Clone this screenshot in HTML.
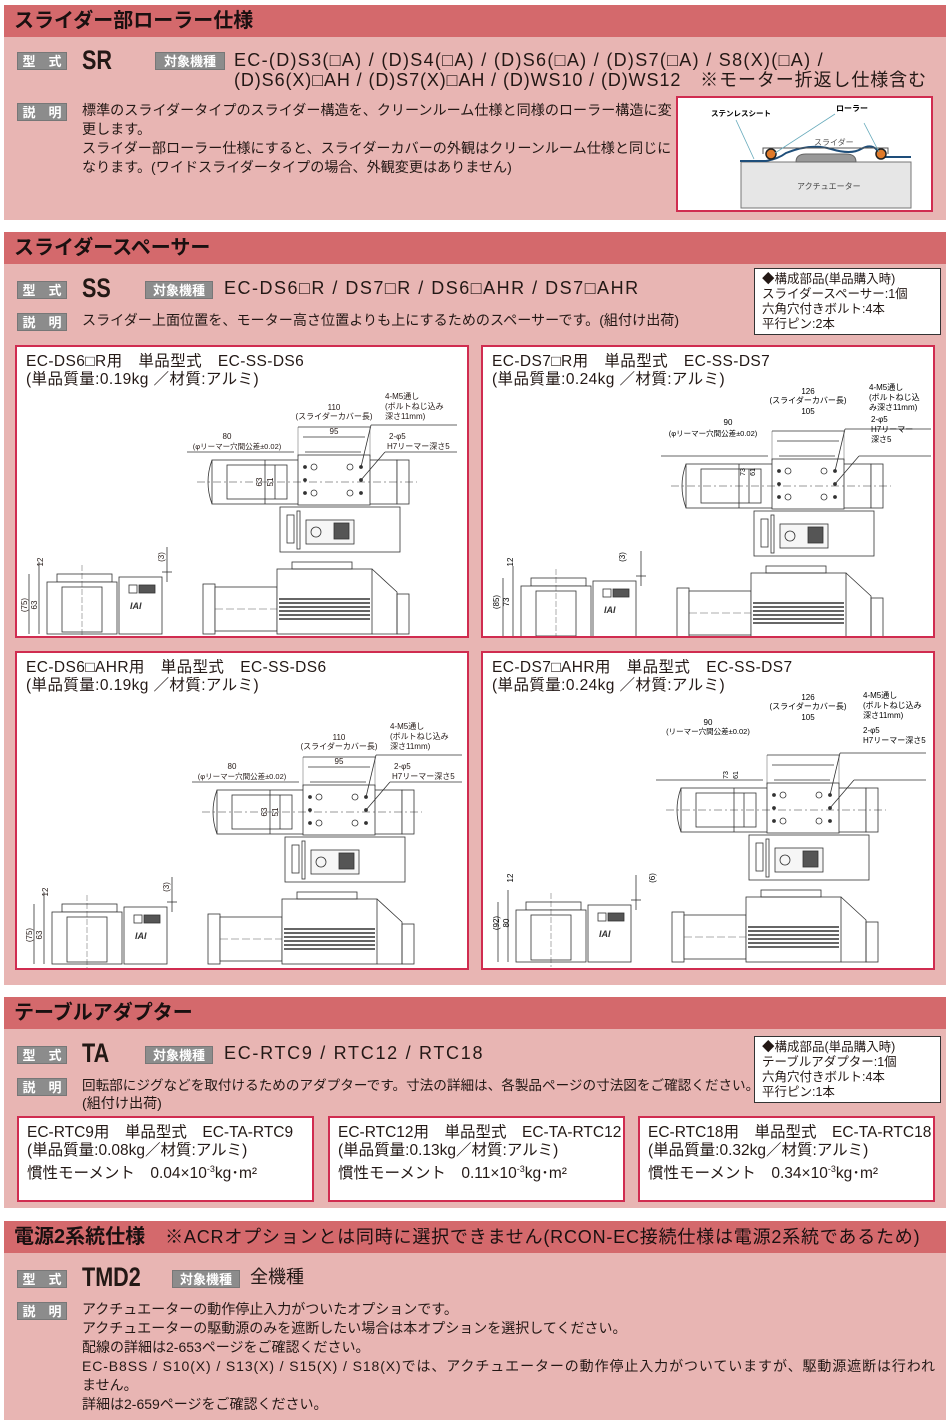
<!DOCTYPE html>
<html><head><meta charset="utf-8">
<style>
*{margin:0;padding:0;box-sizing:border-box}
body{width:950px;height:1420px;background:#fff;position:relative;overflow:hidden;font-family:"Liberation Sans","Noto Sans CJK JP",sans-serif;color:#231815}
.sec{position:absolute;left:4px;width:942px;background:#e8b5b3}
.hd{position:absolute;left:4px;width:942px;height:32px;background:#d4696c;font-weight:bold;font-size:20px;line-height:32px;padding-left:10px;color:#1a1010}
.a{position:absolute;white-space:nowrap}
.lb{position:absolute;background:#8c8c8c;color:#fff;font-size:13px;font-weight:bold;height:18px;line-height:18px;text-align:center;border:1px solid #777}
.big{position:absolute;font-weight:bold;font-size:27px;transform:scaleX(.8);transform-origin:left;line-height:28px}
.t17{font-size:18px;line-height:19px}
.t15{font-size:14.1px;line-height:19px}
.pn{position:absolute;background:#fff;border:2px solid #d02c50}
.bx{position:absolute;background:#fff;border:1.5px solid #333;font-size:12.5px;line-height:15px;padding:3px 7px}
.pt{position:absolute;left:9px;top:6px;font-size:15.5px;line-height:18px;white-space:nowrap;letter-spacing:0.4px}
svg text{font-family:"Liberation Sans","Noto Sans CJK JP",sans-serif}
</style></head><body>
<svg width="0" height="0" style="position:absolute">
<defs>
<g id="dw" fill="none" stroke="#333" stroke-width="0.8">
 <rect x="195" y="113" width="185" height="44" fill="#fff"/>
 <path d="M195 113 q-8 22 0 44"/>
 <rect x="210" y="118" width="60" height="34"/>
 <rect x="281" y="108" width="72" height="50" fill="#fff"/>
 <circle cx="297" cy="120" r="3"/><circle cx="333" cy="120" r="3"/><circle cx="297" cy="146" r="3"/><circle cx="333" cy="146" r="3"/>
 <circle cx="288" cy="120" r="1.5" fill="#333"/><circle cx="344" cy="120" r="1.5" fill="#333"/><circle cx="288" cy="133" r="1.5" fill="#333"/><circle cx="344" cy="133" r="1.5" fill="#333"/><circle cx="288" cy="146" r="1.5" fill="#333"/><circle cx="344" cy="146" r="1.5" fill="#333"/>
 <rect x="380" y="113" width="12" height="44" fill="#fff"/>
 <line x1="180" y1="135" x2="400" y2="135" stroke-dasharray="8 3 2 3" stroke-width="0.5"/>
 <rect x="263" y="160" width="120" height="45" fill="#fff"/>
 <rect x="270" y="168" width="7" height="28"/>
 <rect x="280" y="164" width="3" height="38"/>
 <rect x="289" y="173" width="48" height="24" fill="#f6f6f6"/>
 <rect x="317" y="176" width="15" height="16" fill="#555"/>
 <circle cx="299" cy="185" r="5"/>
 <line x1="281" y1="80" x2="353" y2="80"/><line x1="281" y1="80" x2="281" y2="110" stroke-width="0.4"/><line x1="353" y1="80" x2="353" y2="110" stroke-width="0.4"/>
 <line x1="286" y1="90" x2="348" y2="90"/>
 <line x1="170" y1="105" x2="277" y2="105"/><line x1="288" y1="105" x2="344" y2="105"/>
 <line x1="354" y1="78" x2="440" y2="78"/><line x1="354" y1="78" x2="344" y2="120"/>
 <line x1="368" y1="105" x2="440" y2="105"/><line x1="368" y1="105" x2="344" y2="133"/>
 <line x1="248" y1="113" x2="248" y2="157"/><line x1="258" y1="118" x2="258" y2="152"/>
 <rect x="40" y="227" width="55" height="8" fill="#fff"/>
 <rect x="30" y="235" width="70" height="52" fill="#fff"/>
 <rect x="45" y="240" width="40" height="45"/>
 <rect x="102" y="230" width="43" height="57" fill="#fff"/>
 <rect x="112" y="238" width="8" height="8"/><rect x="122" y="238" width="16" height="8" fill="#555"/>
 <text x="113" y="262" font-size="9" font-weight="bold" font-style="italic" fill="#333" stroke="none">IAI</text>
 <line x1="65" y1="218" x2="65" y2="292" stroke-dasharray="6 2" stroke-width="0.4"/>
 <line x1="12" y1="227" x2="12" y2="287"/><line x1="22" y1="235" x2="22" y2="287"/><line x1="22" y1="215" x2="22" y2="235"/>
 <line x1="145" y1="225" x2="155" y2="225"/><line x1="150" y1="200" x2="150" y2="235"/>
 <rect x="186" y="237" width="12" height="50" fill="#fff"/>
 <rect x="198" y="240" width="62" height="44" fill="#fff"/>
 <rect x="260" y="222" width="95" height="65" fill="#fff"/>
 <path d="M355 222 L380 245 L380 287 L355 287"/>
 <rect x="380" y="247" width="12" height="40"/>
 <rect x="275" y="215" width="60" height="7"/>
 <g stroke-width="1.4"><line x1="262" y1="252" x2="353" y2="252"/><line x1="262" y1="256" x2="353" y2="256"/><line x1="262" y1="260" x2="353" y2="260"/><line x1="262" y1="264" x2="353" y2="264"/><line x1="262" y1="268" x2="353" y2="268"/><line x1="262" y1="272" x2="353" y2="272"/></g>
 <line x1="198" y1="262" x2="260" y2="262" stroke-dasharray="8 3" stroke-width="0.4"/>
</g>
<g id="dl" font-size="8" fill="#231815">
 <text x="317" y="63" text-anchor="middle">110</text>
 <text x="317" y="72" text-anchor="middle">(スライダーカバー長)</text>
 <text x="317" y="87" text-anchor="middle">95</text>
 <text x="210" y="92" text-anchor="middle">80</text>
 <text x="220" y="102" text-anchor="middle" font-size="7.5">(φリーマー穴間公差±0.02)</text>
 <text x="368" y="52">4-M5通し</text>
 <text x="368" y="62">(ボルトねじ込み</text>
 <text x="368" y="72">深さ11mm)</text>
 <text x="372" y="92">2-φ5</text>
 <text x="370" y="102">H7リーマー深さ5</text>
 <text x="245" y="135" transform="rotate(-90 245 135)" text-anchor="middle">63</text>
 <text x="256" y="135" transform="rotate(-90 256 135)" text-anchor="middle">51</text>
 <text x="26" y="215" transform="rotate(-90 26 215)" text-anchor="middle">12</text>
 <text x="10" y="258" transform="rotate(-90 10 258)" text-anchor="middle">(75)</text>
 <text x="20" y="258" transform="rotate(-90 20 258)" text-anchor="middle">63</text>
 <text x="147" y="210" transform="rotate(-90 147 210)" text-anchor="middle">(3)</text>
</g>
</defs></svg>

<!-- Section 1 -->
<div class="hd" style="top:5px">スライダー部ローラー仕様</div>
<div class="sec" style="top:37px;height:183px"></div>
<div class="lb" style="left:17px;top:52px;width:50px">型　式</div>
<div class="big" style="left:82px;top:46px">SR</div>
<div class="lb" style="left:155px;top:52px;width:70px">対象機種</div>
<div class="a t17" style="left:234px;top:51px;letter-spacing:1.3px">EC-(D)S3(□A) / (D)S4(□A) / (D)S6(□A) / (D)S7(□A) / S8(X)(□A) /</div>
<div class="a t17" style="left:234px;top:71px;letter-spacing:0.9px">(D)S6(X)□AH / (D)S7(X)□AH / (D)WS10 / (D)WS12　※モーター折返し仕様含む</div>
<div class="lb" style="left:17px;top:103px;width:50px">説　明</div>
<div class="a t15" style="left:82px;top:101px">標準のスライダータイプのスライダー構造を、クリーンルーム仕様と同様のローラー構造に変</div>
<div class="a t15" style="left:82px;top:120px">更します。</div>
<div class="a t15" style="left:82px;top:139px">スライダー部ローラー仕様にすると、スライダーカバーの外観はクリーンルーム仕様と同じに</div>
<div class="a t15" style="left:82px;top:158px">なります。(ワイドスライダータイプの場合、外観変更はありません)</div>
<div class="pn" style="left:676px;top:96px;width:257px;height:116px">
<svg width="253" height="112" style="position:absolute;left:0;top:0">
 <rect x="63" y="64" width="170" height="46" fill="#e6e6e6" stroke="#777"/>
 <path d="M118 64 q0 -8 10 -8 h40 q10 0 10 8z" fill="#999" stroke="#666"/>
 <path d="M62 63 H88 q12 -2 20 -8 q25 -10 45 -4 q20 6 30 0 q14 -8 20 8 H233" fill="none" stroke="#1e4e7a" stroke-width="2"/>
 <path d="M85 56 v-6 h125 v6" fill="none" stroke="#555"/>
 <circle cx="93" cy="56" r="5" fill="#e07a2a" stroke="#222" stroke-width="1.5"/>
 <circle cx="203" cy="56" r="5" fill="#e07a2a" stroke="#222" stroke-width="1.5"/>
 <line x1="58" y1="22" x2="76" y2="61" stroke="#6ab" stroke-width="0.8"/>
 <line x1="157" y1="16" x2="97" y2="55" stroke="#6ab" stroke-width="0.8"/>
 <line x1="186" y1="25" x2="201" y2="54" stroke="#6ab" stroke-width="0.8"/>
 <text x="33" y="18" font-size="7.5" font-weight="bold">ステンレスシート</text>
 <text x="158" y="13" font-size="8" font-weight="bold">ローラー</text>
 <text x="136" y="47" font-size="8" fill="#555">スライダー</text>
 <text x="119" y="91" font-size="8" fill="#444">アクチュエーター</text>
</svg></div>

<!-- Section 2 -->
<div class="hd" style="top:232px">スライダースペーサー</div>
<div class="sec" style="top:264px;height:721px"></div>
<div class="lb" style="left:17px;top:281px;width:50px">型　式</div>
<div class="big" style="left:82px;top:274px">SS</div>
<div class="lb" style="left:145px;top:281px;width:68px">対象機種</div>
<div class="a t17" style="left:224px;top:279px;letter-spacing:1.5px">EC-DS6□R / DS7□R / DS6□AHR / DS7□AHR</div>
<div class="bx" style="left:754px;top:268px;width:187px;height:67px">◆構成部品(単品購入時)<br>スライダースペーサー:1個<br>六角穴付きボルト:4本<br>平行ピン:2本</div>
<div class="lb" style="left:17px;top:313px;width:50px">説　明</div>
<div class="a t15" style="left:82px;top:311px">スライダー上面位置を、モーター高さ位置よりも上にするためのスペーサーです。(組付け出荷)</div>

<div class="pn" style="left:15px;top:345px;width:454px;height:293px"><div class="pt">EC-DS6□R用　単品型式　EC-SS-DS6<br>(単品質量:0.19kg ／材質:アルミ)</div>
<svg width="450" height="289" style="position:absolute;left:0;top:0"><use href="#dw"/><use href="#dl"/></svg></div>
<div class="pn" style="left:481px;top:345px;width:454px;height:293px"><div class="pt">EC-DS7□R用　単品型式　EC-SS-DS7<br>(単品質量:0.24kg ／材質:アルミ)</div>
<svg width="450" height="289" style="position:absolute;left:0;top:0"><g transform="translate(8,4)"><use href="#dw"/></g>
<g font-size="8"><text x="325" y="47" text-anchor="middle">126</text><text x="325" y="56" text-anchor="middle">(スライダーカバー長)</text><text x="325" y="67" text-anchor="middle">105</text><text x="245" y="78" text-anchor="middle">90</text><text x="230" y="89" text-anchor="middle" font-size="7.5">(φリーマー穴間公差±0.02)</text><text x="386" y="43">4-M5通し</text><text x="386" y="53">(ボルトねじ込</text><text x="386" y="63">み深さ11mm)</text><text x="388" y="75">2-φ5</text><text x="388" y="85">H7リーマー</text><text x="388" y="95">深さ5</text><text x="262" y="125" transform="rotate(-90 262 125)" text-anchor="middle" font-size="7">73</text><text x="272" y="125" transform="rotate(-90 272 125)" text-anchor="middle" font-size="7">61</text><text x="30" y="215" transform="rotate(-90 30 215)" text-anchor="middle">12</text><text x="16" y="255" transform="rotate(-90 16 255)" text-anchor="middle">(85)</text><text x="26" y="255" transform="rotate(-90 26 255)" text-anchor="middle">73</text><text x="142" y="210" transform="rotate(-90 142 210)" text-anchor="middle">(3)</text></g></svg></div>

<div class="pn" style="left:15px;top:651px;width:454px;height:319px"><div class="pt">EC-DS6□AHR用　単品型式　EC-SS-DS6<br>(単品質量:0.19kg ／材質:アルミ)</div>
<svg width="450" height="315" style="position:absolute;left:0;top:0"><g transform="translate(5,24)"><use href="#dw"/><use href="#dl"/></g></svg></div>
<div class="pn" style="left:481px;top:651px;width:454px;height:319px"><div class="pt">EC-DS7□AHR用　単品型式　EC-SS-DS7<br>(単品質量:0.24kg ／材質:アルミ)</div>
<svg width="450" height="315" style="position:absolute;left:0;top:0"><g transform="translate(3,22)"><use href="#dw"/></g>
<g font-size="8"><text x="325" y="47" text-anchor="middle">126</text><text x="325" y="56" text-anchor="middle">(スライダーカバー長)</text><text x="325" y="67" text-anchor="middle">105</text><text x="225" y="72" text-anchor="middle">90</text><text x="225" y="81" text-anchor="middle" font-size="7.5">(リーマー穴間公差±0.02)</text><text x="380" y="45">4-M5通し</text><text x="380" y="55">(ボルトねじ込み</text><text x="380" y="65">深さ11mm)</text><text x="380" y="80">2-φ5</text><text x="380" y="90">H7リーマー深さ5</text><text x="245" y="122" transform="rotate(-90 245 122)" text-anchor="middle" font-size="7">73</text><text x="255" y="122" transform="rotate(-90 255 122)" text-anchor="middle" font-size="7">61</text><text x="30" y="225" transform="rotate(-90 30 225)" text-anchor="middle">12</text><text x="16" y="270" transform="rotate(-90 16 270)" text-anchor="middle">(92)</text><text x="26" y="270" transform="rotate(-90 26 270)" text-anchor="middle">80</text><text x="172" y="225" transform="rotate(-90 172 225)" text-anchor="middle">(6)</text></g></svg></div>

<!-- Section 3 -->
<div class="hd" style="top:997px">テーブルアダプター</div>
<div class="sec" style="top:1029px;height:179px"></div>
<div class="lb" style="left:17px;top:1046px;width:50px">型　式</div>
<div class="big" style="left:82px;top:1039px">TA</div>
<div class="lb" style="left:145px;top:1046px;width:68px">対象機種</div>
<div class="a t17" style="left:224px;top:1044px;letter-spacing:1.7px">EC-RTC9 / RTC12 / RTC18</div>
<div class="bx" style="left:754px;top:1036px;width:187px;height:67px">◆構成部品(単品購入時)<br>テーブルアダプター:1個<br>六角穴付きボルト:4本<br>平行ピン:1本</div>
<div class="lb" style="left:17px;top:1078px;width:50px">説　明</div>
<div class="a t15" style="left:82px;top:1076px;font-size:13.6px">回転部にジグなどを取付けるためのアダプターです。寸法の詳細は、各製品ページの寸法図をご確認ください。</div>
<div class="a t15" style="left:82px;top:1094px">(組付け出荷)</div>
<div class="pn" style="left:17px;top:1116px;width:297px;height:86px"><div class="pt" style="top:6px;left:8px;letter-spacing:0">EC-RTC9用　単品型式　EC-TA-RTC9<br>(単品質量:0.08kg／材質:アルミ)<br>慣性モーメント　0.04×10<sup style="font-size:9px">-3</sup>kg･m²</div></div>
<div class="pn" style="left:328px;top:1116px;width:297px;height:86px"><div class="pt" style="top:6px;left:8px;letter-spacing:0">EC-RTC12用　単品型式　EC-TA-RTC12<br>(単品質量:0.13kg／材質:アルミ)<br>慣性モーメント　0.11×10<sup style="font-size:9px">-3</sup>kg･m²</div></div>
<div class="pn" style="left:638px;top:1116px;width:297px;height:86px"><div class="pt" style="top:6px;left:8px;letter-spacing:0">EC-RTC18用　単品型式　EC-TA-RTC18<br>(単品質量:0.32kg／材質:アルミ)<br>慣性モーメント　0.34×10<sup style="font-size:9px">-3</sup>kg･m²</div></div>

<!-- Section 4 -->
<div class="hd" style="top:1221px">電源2系統仕様　<span style="font-weight:normal;font-size:18px;letter-spacing:0.8px">※ACRオプションとは同時に選択できません(RCON-EC接続仕様は電源2系統であるため)</span></div>
<div class="sec" style="top:1253px;height:167px"></div>
<div class="lb" style="left:17px;top:1270px;width:50px">型　式</div>
<div class="big" style="left:82px;top:1263px">TMD2</div>
<div class="lb" style="left:172px;top:1270px;width:68px">対象機種</div>
<div class="a t17" style="left:250px;top:1268px">全機種</div>
<div class="lb" style="left:17px;top:1302px;width:50px">説　明</div>
<div class="a t15" style="left:82px;top:1300px;font-size:14px">アクチュエーターの動作停止入力がついたオプションです。</div>
<div class="a t15" style="left:82px;top:1319px;font-size:14px">アクチュエーターの駆動源のみを遮断したい場合は本オプションを選択してください。</div>
<div class="a t15" style="left:82px;top:1338px;font-size:14px">配線の詳細は2-653ページをご確認ください。</div>
<div class="a t15" style="left:82px;top:1357px;font-size:14px;letter-spacing:0.9px">EC-B8SS / S10(X) / S13(X) / S15(X) / S18(X)では、アクチュエーターの動作停止入力がついていますが、駆動源遮断は行われ</div>
<div class="a t15" style="left:82px;top:1376px;font-size:14px">ません。</div>
<div class="a t15" style="left:82px;top:1395px;font-size:14px">詳細は2-659ページをご確認ください。</div>
</body></html>
